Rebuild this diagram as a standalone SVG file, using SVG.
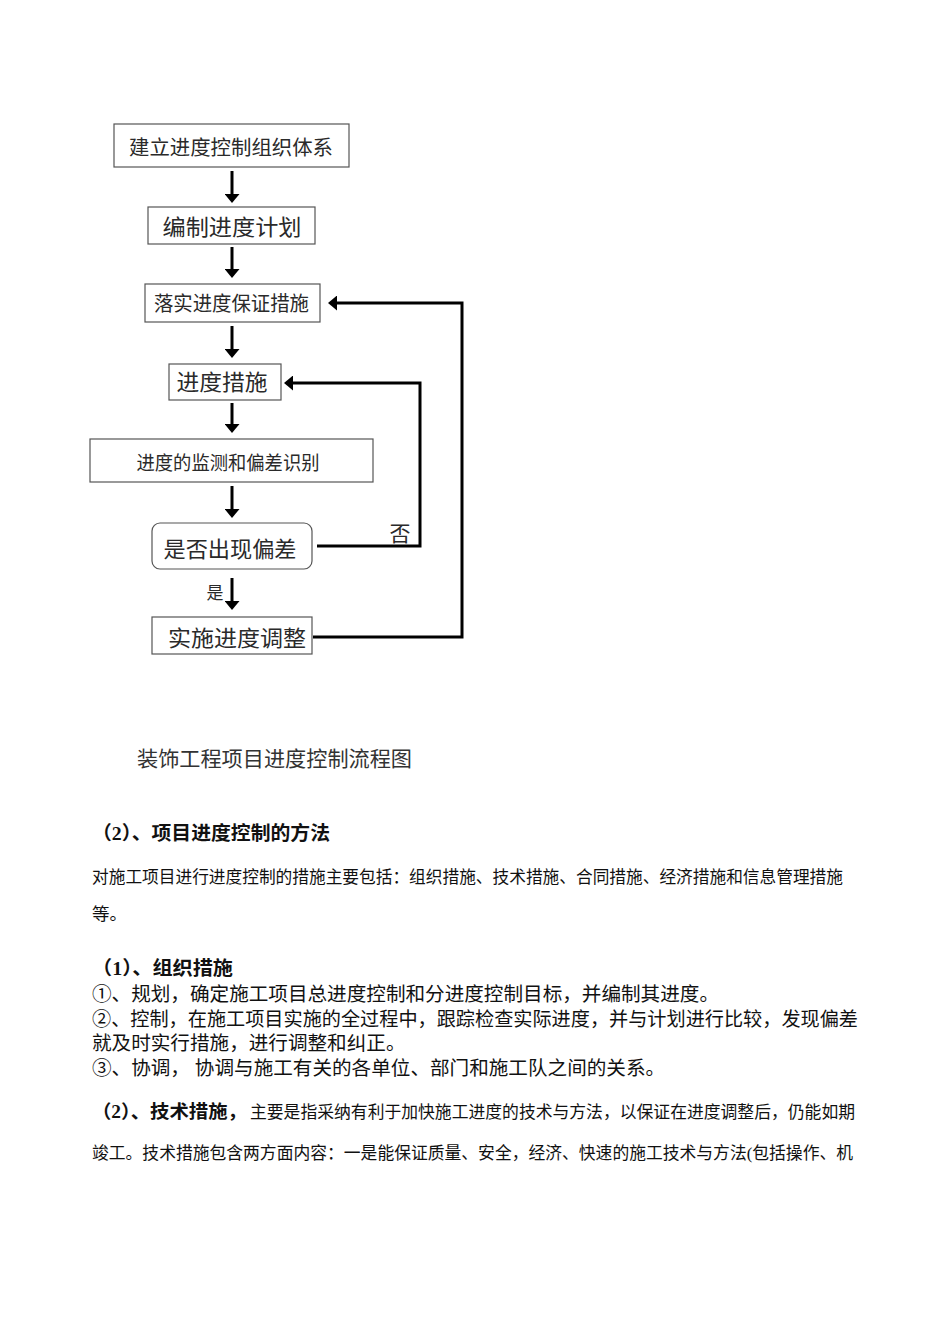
<svg xmlns="http://www.w3.org/2000/svg" width="950" height="1344" viewBox="0 0 950 1344">
<style>
.bg{fill:#ffffff}
.box{fill:#ffffff;stroke:#555555;stroke-width:1.2}
.nt{font-family:"Liberation Serif","Noto Sans CJK SC",serif;fill:#2a2a2a;text-anchor:middle}
.con{fill:none;stroke:#000000;stroke-width:3;stroke-linejoin:miter}
.lbl{font-family:"Liberation Serif","Noto Sans CJK SC",serif;fill:#2a2a2a}
.body{font-family:"Liberation Serif","Noto Sans CJK SC",serif;fill:#111111}
.b{font-weight:bold}
</style>
<defs>
<marker id="ah" viewBox="0 0 9 15" refX="3" refY="7.5" markerWidth="9" markerHeight="15" markerUnits="userSpaceOnUse" orient="auto">
<path d="M0,0 L9,7.5 L0,15 z" fill="#000000"/>
</marker>
</defs>
<rect class="bg" x="0" y="0" width="950" height="1344"/>

<g id="n1"><rect class="box" x="114" y="124" width="235" height="43"/><text class="nt" x="231" y="155" font-size="20" textLength="204" lengthAdjust="spacingAndGlyphs">建立进度控制组织体系</text></g>
<g id="n2"><rect class="box" x="148" y="207" width="167" height="37"/><text class="nt" x="232" y="235" font-size="22" textLength="139" lengthAdjust="spacingAndGlyphs">编制进度计划</text></g>
<g id="n3"><rect class="box" x="145" y="284" width="175" height="38"/><text class="nt" x="231.5" y="311" font-size="20" textLength="155" lengthAdjust="spacingAndGlyphs">落实进度保证措施</text></g>
<g id="n4"><rect class="box" x="169" y="364" width="112" height="36"/><text class="nt" x="222" y="390" font-size="22" textLength="91" lengthAdjust="spacingAndGlyphs">进度措施</text></g>
<g id="n5"><rect class="box" x="90" y="439" width="283" height="43"/><text class="nt" x="228" y="470" font-size="19.5" textLength="183" lengthAdjust="spacingAndGlyphs">进度的监测和偏差识别</text></g>
<g id="n6"><rect class="box" x="152" y="523" width="160" height="46" rx="8" ry="8"/><text class="nt" x="230" y="557" font-size="22" textLength="133" lengthAdjust="spacingAndGlyphs">是否出现偏差</text></g>
<g id="n7"><rect class="box" x="152" y="617" width="160" height="37"/><text class="nt" x="237" y="646" font-size="22" textLength="138" lengthAdjust="spacingAndGlyphs">实施进度调整</text></g>

<g id="connectors">
<line class="con" x1="232" y1="171" x2="232" y2="197" marker-end="url(#ah)"/>
<line class="con" x1="232" y1="247" x2="232" y2="272" marker-end="url(#ah)"/>
<line class="con" x1="232" y1="326" x2="232" y2="352" marker-end="url(#ah)"/>
<line class="con" x1="232" y1="403" x2="232" y2="427" marker-end="url(#ah)"/>
<line class="con" x1="232" y1="486" x2="232" y2="512" marker-end="url(#ah)"/>
<line class="con" x1="232" y1="578" x2="232" y2="604" marker-end="url(#ah)"/>
<polyline class="con" points="317,546 420,546 420,383 290,383" marker-end="url(#ah)"/>
<polyline class="con" points="313,637 462,637 462,303 334,303" marker-end="url(#ah)"/>
<text class="lbl" x="400" y="541" font-size="21" text-anchor="middle">否</text>
<text class="lbl" x="215" y="599" font-size="17" text-anchor="middle">是</text>
</g>

<text x="137" y="766" font-family="Liberation Serif, Noto Sans CJK SC, serif" font-size="21" fill="#333333" textLength="275" lengthAdjust="spacingAndGlyphs">装饰工程项目进度控制流程图</text>

<text class="body b" x="92" y="840" font-size="19" textLength="238" lengthAdjust="spacingAndGlyphs">（2）、项目进度控制的方法</text>
<text class="body" x="92" y="883" font-size="17.5" textLength="751" lengthAdjust="spacingAndGlyphs">对施工项目进行进度控制的措施主要包括：组织措施、技术措施、合同措施、经济措施和信息管理措施</text>
<text class="body" x="92" y="920" font-size="17.5">等。</text>

<text class="body b" x="92" y="975" font-size="19" textLength="141" lengthAdjust="spacingAndGlyphs">（1）、组织措施</text>
<text class="body" x="92" y="1001" font-size="19.6">①、规划，确定施工项目总进度控制和分进度控制目标，并编制其进度。</text>
<text class="body" x="92" y="1026" font-size="19.6" textLength="766" lengthAdjust="spacingAndGlyphs">②、控制，在施工项目实施的全过程中，跟踪检查实际进度，并与计划进行比较，发现偏差</text>
<text class="body" x="92" y="1050" font-size="19.6">就及时实行措施，进行调整和纠正。</text>
<text class="body" x="92" y="1075" font-size="19.6" xml:space="preserve">③、协调， 协调与施工有关的各单位、部门和施工队之间的关系。</text>

<text class="body" x="92" y="1118"><tspan class="b" font-size="18.5" textLength="155" lengthAdjust="spacingAndGlyphs">（2）、技术措施，</tspan><tspan font-size="17.3" x="250" textLength="605" lengthAdjust="spacingAndGlyphs">主要是指采纳有利于加快施工进度的技术与方法，以保证在进度调整后，仍能如期</tspan></text>
<text class="body" x="92" y="1159" font-size="17.5" textLength="761" lengthAdjust="spacingAndGlyphs">竣工。技术措施包含两方面内容：一是能保证质量、安全，经济、快速的施工技术与方法(包括操作、机</text>
</svg>
